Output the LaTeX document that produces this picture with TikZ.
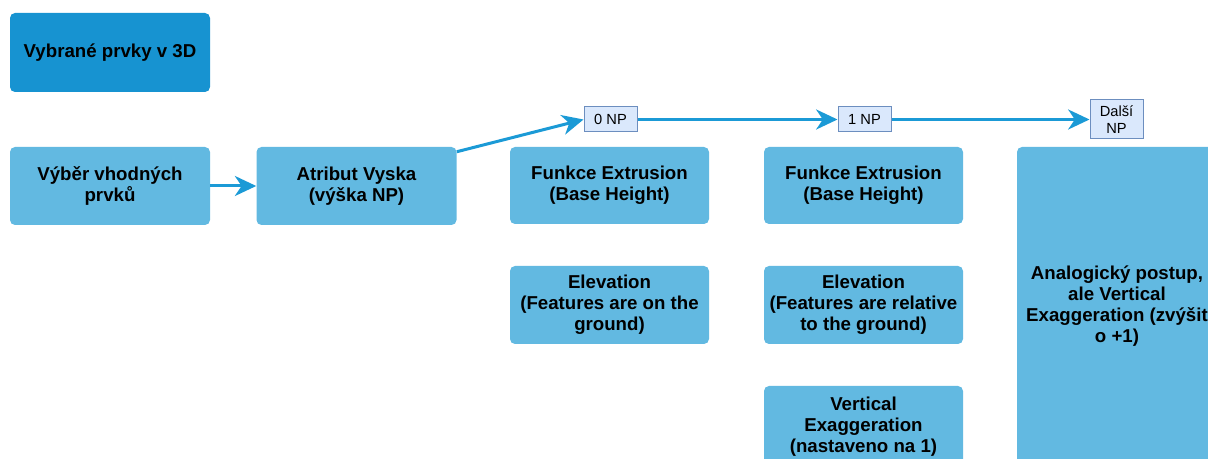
\documentclass[tikz,border=0pt]{standalone}
\usepackage{fontspec}
\setmainfont{Liberation Sans}
\usepackage{xcolor}
\usetikzlibrary{arrows.meta}

\definecolor{boxdark}{HTML}{1793D1}
\definecolor{boxlight}{HTML}{62B9E1}
\definecolor{arrowblue}{HTML}{1B9AD6}
\definecolor{npfill}{HTML}{DAE8FC}
\definecolor{npline}{HTML}{6C8EBF}

\begin{document}
\begin{tikzpicture}[x=0.75pt,y=-0.75pt,
  stepbox/.style={rectangle,rounded corners=3.75pt,fill=boxlight,draw=none,
    minimum width=150pt,minimum height=58.5pt,inner sep=0pt,align=center,
    font=\fontsize{14}{15.75}\selectfont\bfseries},
  npbox/.style={rectangle,fill=npfill,draw=npline,line width=0.75pt,
    minimum width=39.75pt,minimum height=18.75pt,inner sep=0pt,align=center,
    font=\fontsize{11}{12.5}\selectfont},
  flow/.style={draw=arrowblue,line width=2.25pt,
    -{Stealth[length=16pt,width=15pt,inset=5pt]}}]
\useasboundingbox (0,0) rectangle (1208,459);
\clip (0,0) rectangle (1208,459);
\node[stepbox,fill=boxdark,minimum height=59.25pt] (title) at (110,52.5) {Vybrané prvky v 3D};
\node[stepbox] (select) at (110,186) {Výběr vhodných\\prvků};
\node[stepbox] (height) at (356.5,186) {Atribut Vyska\\(výška NP)};
\node[npbox] (np0) at (610.5,119.5) {0 NP};
\node[npbox] (np1) at (864.5,119.5) {1 NP};
\node[npbox,minimum height=29.25pt] (npnext) at (1116.5,119.5) {Další\\NP};
\node[stepbox,minimum width=149.25pt,minimum height=57.75pt] (extrude0) at (609.5,185.5) {Funkce Extrusion\\(Base Height)};
\node[stepbox,minimum width=149.25pt] (elev0) at (609.5,305) {Elevation\\(Features are on the\\ground)};
\node[stepbox,minimum width=149.25pt,minimum height=57.75pt] (extrude1) at (863.5,185.5) {Funkce Extrusion\\(Base Height)};
\node[stepbox,minimum width=149.25pt] (elev1) at (863.5,305) {Elevation\\(Features are relative\\to the ground)};
\node[stepbox,minimum width=149.25pt,minimum height=61.5pt] (vert1) at (863.5,427) {Vertical\\Exaggeration\\(nastaveno na 1)};
\node[stepbox,minimum height=239.25pt] (analog) at (1117,306.5) {Analogický postup,\\ale Vertical\\Exaggeration (zvýšit\\o +1)};
\draw[flow] (select) -- (height);
\draw[flow] ([yshift=-3.75pt]height.north east) -- (np0.west);
\draw[flow] (np0) -- (np1);
\draw[flow] (np1) -- (npnext);
\end{tikzpicture}
\end{document}
